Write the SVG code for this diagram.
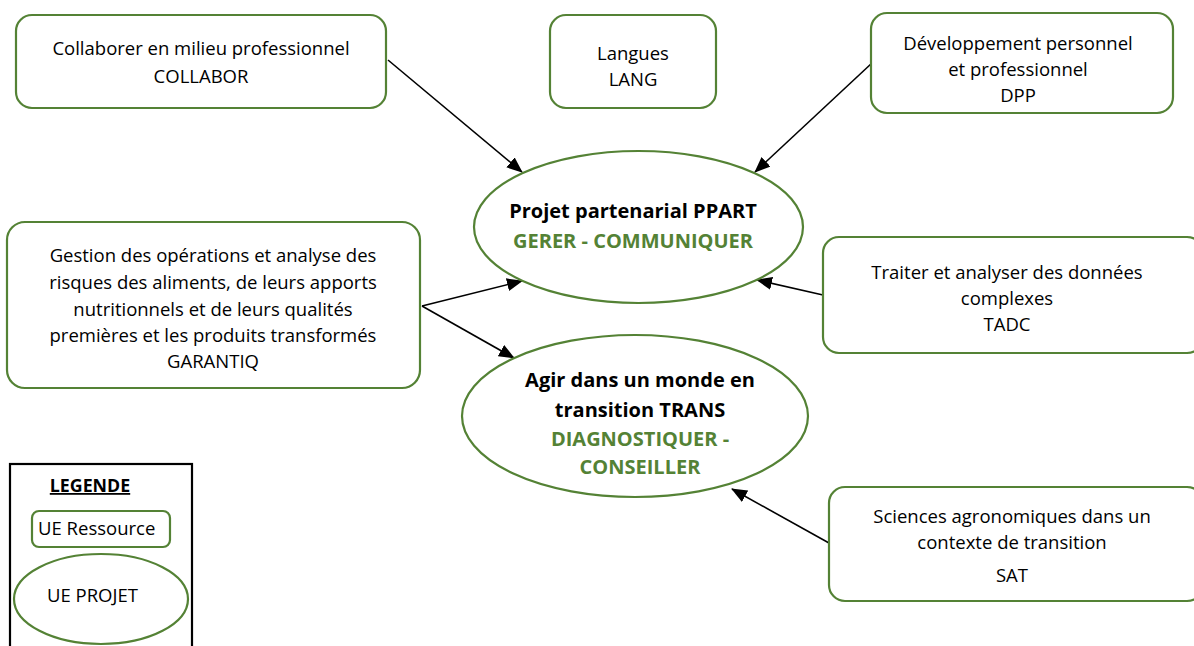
<svg xmlns="http://www.w3.org/2000/svg" width="1194" height="646" viewBox="0 0 1194 646">
  <style>
    .ue { fill: #ffffff; stroke: #548235; stroke-width: 2.2; }
    .t { font-family: "Open Sans", "Liberation Sans", sans-serif; font-size: 18.5px; fill: #000000; text-anchor: middle; }
    .b { font-family: "Open Sans", "Liberation Sans", sans-serif; font-size: 20px; font-weight: bold; fill: #000000; text-anchor: middle; }
    .g { fill: #548235; }
    .edge { stroke: #000000; stroke-width: 1.6; fill: none; marker-end: url(#arrow); }
  </style>
  <defs>
    <marker id="arrow" viewBox="0 0 16 13" refX="15" refY="6.5" markerWidth="16" markerHeight="13" markerUnits="userSpaceOnUse" orient="auto">
      <path d="M0,0 L16,6.5 L0,13 Z" fill="#000000"/>
    </marker>
  </defs>
  <rect width="1194" height="646" fill="#ffffff"/>

  <!-- connectors -->
  <g id="connectors">
    <line class="edge" x1="388" y1="60" x2="522" y2="172"/>
    <line class="edge" x1="872" y1="63" x2="755" y2="172"/>
    <line class="edge" x1="422" y1="306" x2="522" y2="281"/>
    <line class="edge" x1="422" y1="306" x2="514" y2="358"/>
    <line class="edge" x1="823" y1="295" x2="757" y2="280"/>
    <line class="edge" x1="829" y1="543" x2="732" y2="489"/>
  </g>

  <!-- resource units -->
  <g id="collabor">
    <rect class="ue" x="16" y="15" width="370" height="93" rx="16"/>
    <text class="t" x="201" y="55">Collaborer en milieu professionnel</text>
    <text class="t" x="201" y="83">COLLABOR</text>
  </g>
  <g id="lang">
    <rect class="ue" x="550" y="15" width="166" height="93" rx="16"/>
    <text class="t" x="633" y="60">Langues</text>
    <text class="t" x="633" y="86">LANG</text>
  </g>
  <g id="dpp">
    <rect class="ue" x="871" y="13" width="302" height="100" rx="16"/>
    <text class="t" x="1018" y="50">Développement personnel</text>
    <text class="t" x="1018" y="76">et professionnel</text>
    <text class="t" x="1018" y="102">DPP</text>
  </g>
  <g id="garantiq">
    <rect class="ue" x="7" y="222" width="413" height="166" rx="18"/>
    <text class="t" x="213" y="262">Gestion des opérations et analyse des</text>
    <text class="t" x="213" y="289">risques des aliments, de leurs apports</text>
    <text class="t" x="213" y="316">nutritionnels et de leurs qualités</text>
    <text class="t" x="213" y="342">premières et les produits transformés</text>
    <text class="t" x="213" y="368">GARANTIQ</text>
  </g>
  <g id="tadc">
    <rect class="ue" x="823" y="237" width="380" height="116" rx="16"/>
    <text class="t" x="1007" y="279">Traiter et analyser des données</text>
    <text class="t" x="1007" y="305">complexes</text>
    <text class="t" x="1007" y="331">TADC</text>
  </g>
  <g id="sat">
    <rect class="ue" x="829" y="487" width="374" height="114" rx="16"/>
    <text class="t" x="1012" y="523">Sciences agronomiques dans un</text>
    <text class="t" x="1012" y="549">contexte de transition</text>
    <text class="t" x="1012" y="582">SAT</text>
  </g>

  <!-- project units -->
  <g id="ppart">
    <ellipse class="ue" cx="638.5" cy="227" rx="164.5" ry="76"/>
    <text class="b" x="633" y="218">Projet partenarial PPART</text>
    <text class="b g" x="633" y="248">GERER - COMMUNIQUER</text>
  </g>
  <g id="trans">
    <ellipse class="ue" cx="635" cy="416" rx="173" ry="81"/>
    <text class="b" x="640" y="387">Agir dans un monde en</text>
    <text class="b" x="640" y="417">transition TRANS</text>
    <text class="b g" x="640" y="446">DIAGNOSTIQUER -</text>
    <text class="b g" x="640" y="474">CONSEILLER</text>
  </g>

  <!-- legend -->
  <g id="legend">
    <rect x="10" y="464" width="182" height="190" fill="#ffffff" stroke="#000000" stroke-width="2.2"/>
    <text class="b" x="90" y="492" style="font-size:17.8px" text-decoration="underline">LEGENDE</text>
    <rect class="ue" x="32" y="511" width="138" height="36" rx="7"/>
    <text class="t" x="38" y="535" style="text-anchor:start">UE Ressource</text>
    <ellipse class="ue" cx="101" cy="599" rx="87" ry="45"/>
    <text class="t" x="47" y="602" style="text-anchor:start">UE PROJET</text>
  </g>
</svg>
